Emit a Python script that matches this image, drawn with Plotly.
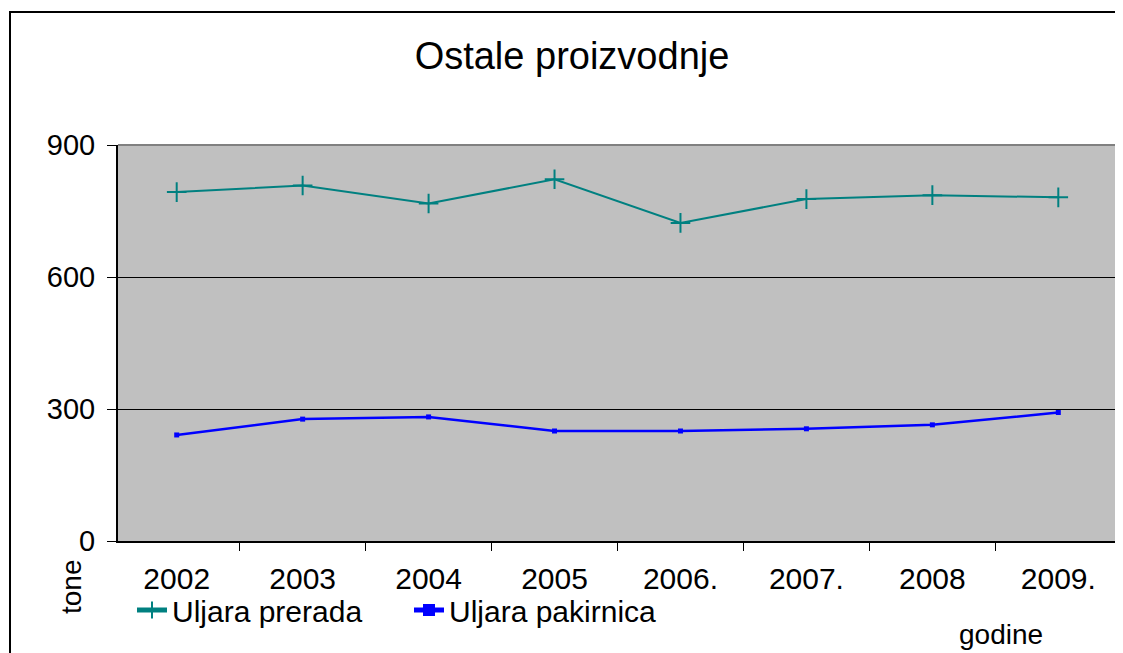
import plotly.graph_objects as go

years = ["2002", "2003", "2004", "2005", "2006.", "2007.", "2008", "2009."]
uljara_prerada = [793, 808, 767, 822, 723, 777, 786, 781]
uljara_pakirnica = [241, 277, 282, 250, 250, 255, 264, 292]
y_ticks = [0, 300, 600, 900]

FONT = "Liberation Sans, Arial, sans-serif"
OFF = 8  # page body margin
W, H = 1123 - OFF, 653 - OFF

fig = go.Figure()
fig.add_trace(go.Scatter(
    x=years, y=uljara_prerada, name="Uljara prerada", mode="lines+markers",
    line=dict(color="#008080", width=2),
    marker=dict(symbol="cross-thin", size=14, color="#008080",
                line=dict(color="#008080", width=2)),
))
fig.add_trace(go.Scatter(
    x=years, y=uljara_pakirnica, name="Uljara pakirnica", mode="lines+markers",
    line=dict(color="#0000FF", width=2.5),
    marker=dict(symbol="square", size=5, color="#0000FF"),
))

fig.update_layout(
    width=W, height=H,
    margin=dict(l=118 - OFF, r=W - (1117 - OFF), t=145 - OFF, b=H - (541 - OFF),
                autoexpand=False),
    paper_bgcolor="white", plot_bgcolor="#C0C0C0",
    font=dict(family=FONT, size=30, color="black"),
    title=dict(text="Ostale proizvodnje", x=(572 - OFF) / W, xanchor="center",
               y=1 - (56 - OFF) / H, yanchor="middle",
               font=dict(family=FONT, size=38, color="black")),
    showlegend=True,
    legend=dict(orientation="h", xref="container", yref="container",
                x=(132 - OFF) / W, y=1 - (584 - OFF) / H, xanchor="left", yanchor="top",
                font=dict(family=FONT, size=30), bgcolor="rgba(0,0,0,0)",
                itemsizing="constant", entrywidth=232, entrywidthmode="pixels"),
    xaxis=dict(type="category", tickson="boundaries", ticks="outside",
               ticklen=8, tickcolor="black", showline=True, linecolor="black",
               linewidth=2, showgrid=False, ticklabelstandoff=10, automargin=False,
               tickfont=dict(family=FONT, size=30)),
    yaxis=dict(range=[0, 900], tickvals=y_ticks, ticks="outside", ticklen=9,
               tickcolor="black", showline=True, linecolor="black", linewidth=2,
               showgrid=True, gridcolor="black", gridwidth=1, zeroline=False,
               ticklabelstandoff=6, automargin=False,
               tickfont=dict(family=FONT, size=29)),
    shapes=[
        dict(type="path", xref="paper", yref="paper",
             path="M 0 1 L 1 1 L 1 0", line=dict(color="#808080", width=2),
             layer="above"),
        dict(type="rect", xref="paper", yref="paper",
             x0=(10 - 118) / 999, x1=1.05, y0=-0.35, y1=(541 - 12) / 396,
             line=dict(color="black", width=2), layer="above"),
    ],
    annotations=[
        dict(text="tone", xref="paper", yref="paper",
             x=(71 - 118) / 999, y=(541 - 587) / 396, textangle=-90,
             showarrow=False, xanchor="center", yanchor="middle",
             font=dict(family=FONT, size=28)),
        dict(text="godine", xref="paper", yref="paper",
             x=(1001 - 118) / 999, y=(541 - 634) / 396,
             showarrow=False, xanchor="center", yanchor="middle",
             font=dict(family=FONT, size=28)),
    ],
)

fig.write_html("out.html")
